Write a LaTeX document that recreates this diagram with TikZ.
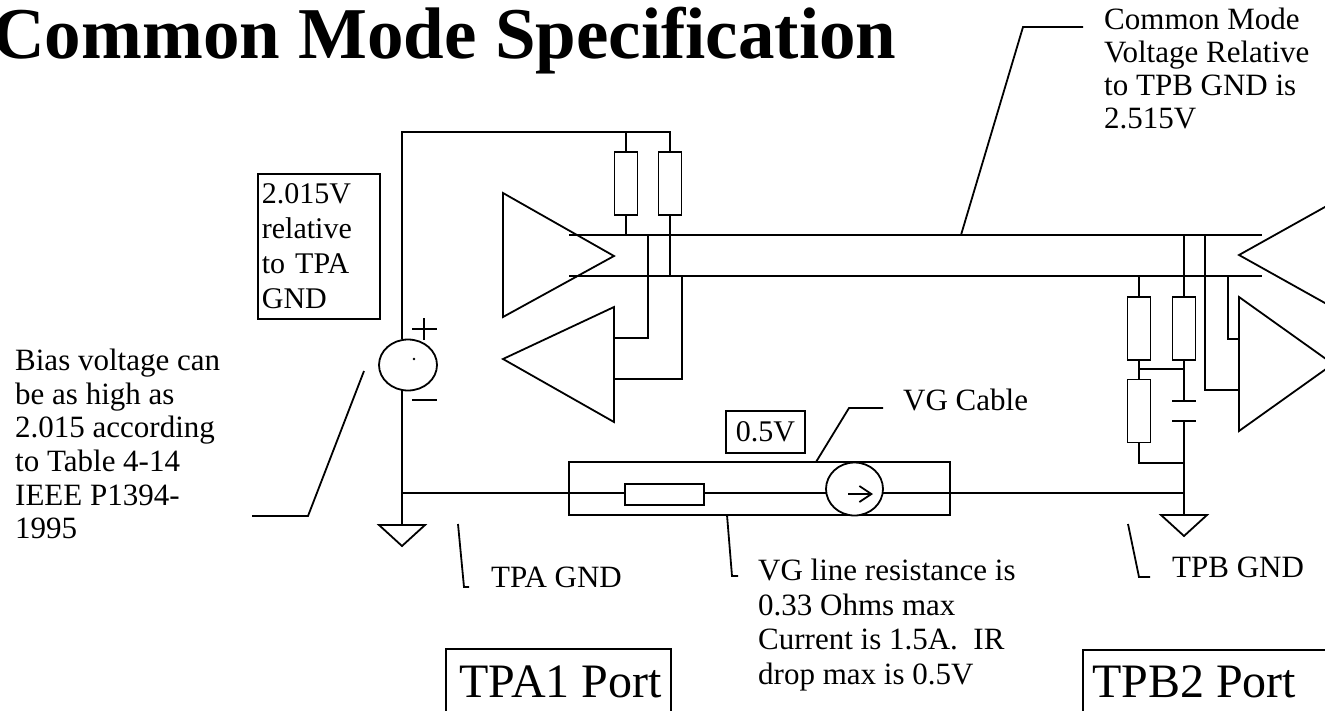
\documentclass[tikz,border=0pt]{standalone}
\usepackage{fontspec}
\setmainfont{Liberation Serif}
\usetikzlibrary{arrows.meta,shapes.geometric}
\begin{document}
\begin{tikzpicture}[x=1pt,y=-1pt,
  wire/.style={line width=1.8pt, line join=miter},
  resv/.style={draw, line width=1.8pt, fill=white, rectangle, minimum width=23pt, minimum height=63pt, inner sep=0pt},
  resh/.style={draw, line width=1.8pt, fill=white, rectangle, minimum width=79pt, minimum height=21pt, inner sep=0pt},
  lbl/.style={inner sep=0pt, align=left, font=\fontsize{31}{34}\selectfont},
  boxed/.style={draw, line width=1.8pt, inner sep=4pt, align=left, font=\fontsize{30}{35}\selectfont},
  portlbl/.style={inner sep=0pt, font=\fontsize{48}{52}\selectfont},
  src/.style={draw, line width=1.8pt, fill=white, ellipse, minimum width=58pt, minimum height=51pt, inner sep=0pt},
]
\useasboundingbox (0,0) rectangle (1325,710);
\clip (0,0) rectangle (1325,710);

% title
\node[anchor=base west, inner sep=0pt, font=\fontsize{73}{80}\selectfont\bfseries] (title) at (-8,58) {Common Mode Specification};

% ---------- coordinates
\coordinate (vtop) at (402,132);
\coordinate (rtop) at (670,132);
\coordinate (gA) at (402,493);
\coordinate (gB) at (1184,493);

% ---------- left side
\draw[wire] (402,339) -- (vtop) -- (rtop) -- (670,152);
\draw[wire] (626,132) -- (626,152);
\node[resv] (r1) at (626,183.5) {};
\node[resv] (r2) at (670,183.5) {};
\draw[wire] (r1.south) -- (626,235);
\draw[wire] (r2.south) -- (670,276);

% cable lines
\coordinate (uL) at (569,235); \coordinate (uR) at (1262,235);
\coordinate (lL) at (569,276); \coordinate (lR) at (1262,276);
\draw[wire] (uL) -- (uR);
\draw[wire] (lL) -- (lR);

% left driver and receiver
\draw[wire] (503,193) -- (614,256) -- (503,317) -- cycle;
\draw[wire] (614,307) -- (614,422) -- (503,359) -- cycle;
\draw[wire] (648,235) -- (648,338) -- (614,338);
\draw[wire] (682,276) -- (682,379) -- (614,379);

% voltage source
\node[src] (vs) at (408,365) {};
\draw[wire] (402,390) -- (gA) -- (402,525);
\fill (414,359) circle (1.3pt);
\draw[wire] (412,329) -- (437,329) (424,318) -- (424,340);
\draw[wire] (412,400) -- (437,400);
% ground A
\draw[wire] (379,525) -- (425,525) -- (402,546) -- cycle;

% bottom wire and cable
\draw[wire] (gA) -- (gB);
\draw[wire] (569,462) rectangle (950,515);
\node[resh] (rl) at (664.5,494.5) {};
\node[src, minimum width=57pt, minimum height=53pt] (cs) at (854.5,489) {};
\draw[line width=1.8pt, -{Straight Barb[length=12pt,width=16pt,line width=1.8pt]}] (848,494) -- (873,494);

% ---------- right side
\draw[wire] (1139,276) -- (1139,297);
\node[resv] (ra) at (1139,328.5) {};
\node[resv] (rb) at (1184,328.5) {};
\node[resv] (rc) at (1139,411) {};
\draw[wire] (ra.south) -- (rc.north);
\draw[wire] (1139,369) -- (1184,369);
\draw[wire] (rc.south) -- (1139,463) -- (1184,463);
\draw[wire] (1184,235) -- (rb.north);
\draw[wire] (rb.south) -- (1184,401);
\draw[wire] (1172,401) -- (1196,401) (1172,421) -- (1196,421);
\draw[wire] (1184,421) -- (gB) -- (1184,515);
\draw[wire] (1161,515) -- (1207,515) -- (1184,536) -- cycle;
\draw[wire] (1205,235) -- (1205,390) -- (1239,390);
\draw[wire] (1228,276) -- (1228,339) -- (1239,339);
\draw[wire] (1350,193) -- (1239,255) -- (1350,317);
\draw[wire] (1239,297) -- (1239,431) -- (1333,364) -- cycle;

% ---------- labels
\node[lbl, anchor=north west, font=\fontsize{31}{33}\selectfont] (cmt) at (1104,8) {Common Mode\\Voltage Relative\\to TPB GND is\\2.515V};
\draw[wire] (961,235) -- (1023,27) -- (1083,27);

\node[boxed, anchor=north west, text width=114pt, minimum height=145pt] (vbox) at (257,173) {2.015V\\relative\\to TPA\\GND};

\node[lbl, anchor=north west, font=\fontsize{31}{33.6}\selectfont] (bias) at (15,349) {Bias voltage can\\be as high as\\2.015 according\\to Table 4-14\\IEEE P1394-\\1995};
\draw[wire] (252,516) -- (308,516) -- (364,371);

\node[draw, line width=1.8pt, minimum width=79pt, minimum height=42pt, inner sep=0pt, font=\fontsize{30}{35}\selectfont] (half) at (765.5,432) {0.5V};

\node[lbl, anchor=base west] (vgc) at (903,410) {VG Cable};
\draw[wire] (816,462) -- (849,408) -- (883,408);

\node[lbl, anchor=north west, font=\fontsize{31}{34.5}\selectfont] (vgl) at (758,559) {VG line resistance is\\0.33 Ohms max\\Current is 1.5A.\ \ IR\\drop max is 0.5V};
\draw[wire] (727,515) -- (732,576) -- (738,576);

\node[lbl, anchor=base west] (tpag) at (491,587) {TPA GND};
\draw[wire] (458,524) -- (464,587) -- (469,587);
\node[lbl, anchor=base west] (tpbg) at (1172,577) {TPB GND};
\draw[wire] (1128,524) -- (1139,577) -- (1150,577);

% ports
\draw[wire] (446,720) -- (446,649) -- (671,649) -- (671,720);
\node[portlbl, anchor=base east] (pa) at (662,697) {TPA1 Port};
\draw[wire] (1083,720) -- (1083,650) -- (1340,650);
\node[portlbl, anchor=base west] (pb) at (1092,697) {TPB2 Port};
\end{tikzpicture}
\end{document}
